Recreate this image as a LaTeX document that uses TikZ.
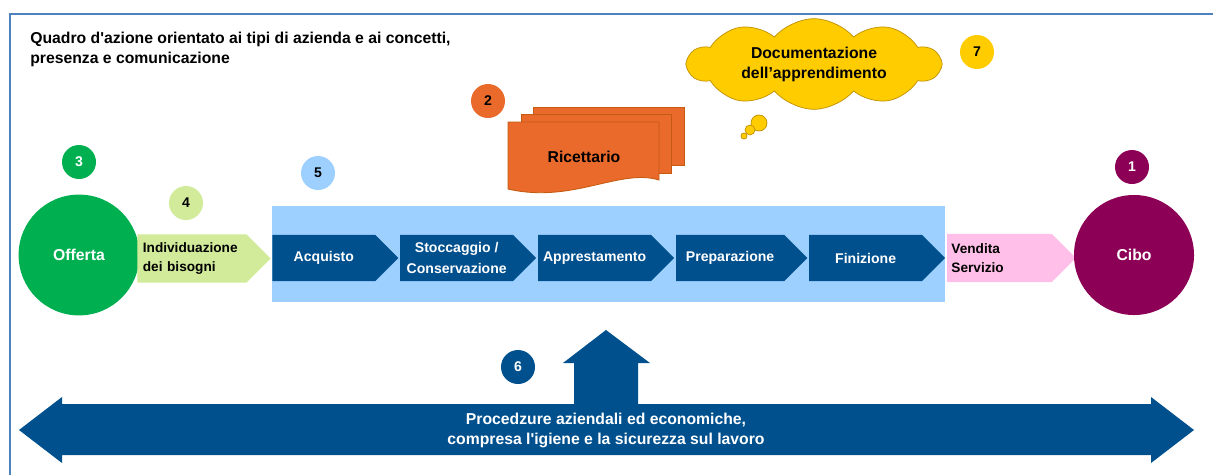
\documentclass[tikz,border=0pt]{standalone}
\usepackage{fontspec}
\setmainfont{Liberation Sans}
\usepackage{tikz}
\usetikzlibrary{positioning, shapes, shapes.symbols}
\definecolor{blu}{RGB}{0,80,142}
\definecolor{azzurro}{RGB}{158,208,255}
\definecolor{verde}{RGB}{0,176,80}
\definecolor{verdino}{RGB}{209,235,154}
\definecolor{arancio}{RGB}{234,106,44}
\definecolor{aranciobordo}{RGB}{197,90,17}
\definecolor{giallo}{RGB}{255,204,0}
\definecolor{giallobordo}{RGB}{191,144,0}
\definecolor{rosa}{RGB}{255,191,232}
\definecolor{viola}{RGB}{140,0,85}
\definecolor{cornice}{RGB}{79,129,189}
\tikzstyle{testo} = [font=\fontsize{10}{15}\selectfont\bfseries]
\tikzstyle{testogrande} = [font=\fontsize{11.2}{14.2}\selectfont\bfseries]
\tikzstyle{numero} = [circle, testo, 
    minimum size=0.85cm, inner sep=0pt]
\tikzstyle{fase} = [signal, signal to=east, signal from=nowhere, testo,
    fill=blu, text=white, align=center, minimum height=1.15cm, inner sep=1pt,
    anchor=west]
\tikzstyle{freccia} = [signal, signal to=east, signal from=nowhere,
    font=\fontsize{9.7}{13}\selectfont\bfseries,
    align=left, minimum height=1.2cm, inner sep=1pt, anchor=west]
\tikzstyle{tondo} = [circle, testogrande, text=white, minimum size=3.02cm]
\tikzstyle{foglio} = [fill=arancio, draw=aranciobordo, line width=0.6pt]
\tikzstyle{bolla} = [circle, fill=giallo, draw=giallobordo, line width=0.5pt, inner sep=0pt]

\begin{document}
\begin{tikzpicture}[x=0.025cm, y=-0.025cm, node distance=0.03cm]

        \useasboundingbox (0,0) rectangle (1213,475);
        \draw[cornice, line width=1.2pt] (10,475) -- (10,14) -- (1213,14);

        \node[
            testogrande,
            anchor=north west,
            align=left,
            inner sep=0pt
        ](titolo) at (30,32){Quadro d\textquotesingle azione orientato ai tipi di azienda e ai concetti,\\presenza e comunicazione};

        \node[
            rectangle,
            fill=azzurro,
            minimum width=16.825cm,
            minimum height=2.4cm
        ](processo) at (608.5,254){};

        \node[
            tondo,
            fill=verde
        ](offerta) at (79,255){Offerta};

        \node[
            freccia,
            fill=verdino,
            minimum width=3.33cm,
            text width=2.45cm
        ](bisogni) at (137,258.5){Individuazione\\dei bisogni};

        \node[
            fase,
            minimum width=3.15cm
        ](acquisto) at (272,258){Acquisto};

        \node[
            fase,
            right=of acquisto,
            minimum width=3.4cm
        ](stoccaggio){Stoccaggio /\\Conservazione};

        \node[
            fase,
            right=of stoccaggio,
            minimum width=3.4cm
        ](apprestamento){Apprestamento};

        \node[
            fase,
            right=of apprestamento,
            minimum width=3.28cm
        ](preparazione){Preparazione};

        \node[
            fase,
            right=of preparazione,
            minimum width=3.4cm
        ](finizione){Finizione};

        \node[
            freccia,
            fill=rosa,
            right=of finizione,
            minimum width=3.22cm,
            text width=2.4cm
        ](vendita){Vendita\\Servizio};

        \node[
            tondo,
            fill=viola,
            minimum size=3cm
        ](cibo) at (1134,255){Cibo};

        \filldraw[foglio] (533,107) rectangle (684,165);
        \filldraw[foglio] (521,114) rectangle (671,173);
        \filldraw[foglio] (508,122) -- (659,122) -- (659,180)
            .. controls (620,168) and (572,204) .. (508,189) -- cycle;
        \node[testogrande](ricettario) at (584,157){Ricettario};

        \node[
            cloud,
            cloud puffs=10,
            cloud puff arc=100,
            cloud ignores aspect,
            fill=giallo,
            draw=giallobordo,
            line width=0.5pt,
            testogrande,
            align=center,
            minimum width=6.3cm,
            minimum height=1.6cm
        ](documentazione) at (814,64){Documentazione\\dell’apprendimento};

        \node[bolla, minimum size=0.4cm](bolla1) at (759,123){};
        \node[bolla, minimum size=0.25cm](bolla2) at (750,130){};
        \node[bolla, minimum size=0.15cm](bolla3) at (744,136){};

        \fill[blu] (19,430) -- (62,397) -- (62,404) -- (574,404) -- (574,363)
            -- (563,363) -- (606,330) -- (650,363) -- (638,363) -- (638,404)
            -- (1151,404) -- (1151,397) -- (1194,430) -- (1151,463) -- (1151,455)
            -- (62,455) -- (62,463) -- cycle;
        \node[
            testogrande,
            text=white,
            align=center
        ](procedure) at (606,430){Procedzure aziendali ed economiche,\\compresa l\textquotesingle igiene e la sicurezza sul lavoro};

        \node[numero, fill=viola, text=white](n1) at (1132,167){1};
        \node[numero, fill=arancio](n2) at (488,101){2};
        \node[numero, fill=verde, text=white](n3) at (79,162){3};
        \node[numero, fill=verdino](n4) at (186,203){4};
        \node[numero, fill=azzurro](n5) at (318,173){5};
        \node[numero, fill=blu, text=white](n6) at (518,367){6};
        \node[numero, fill=giallo](n7) at (977,52){7};
    \end{tikzpicture}
\end{document}
